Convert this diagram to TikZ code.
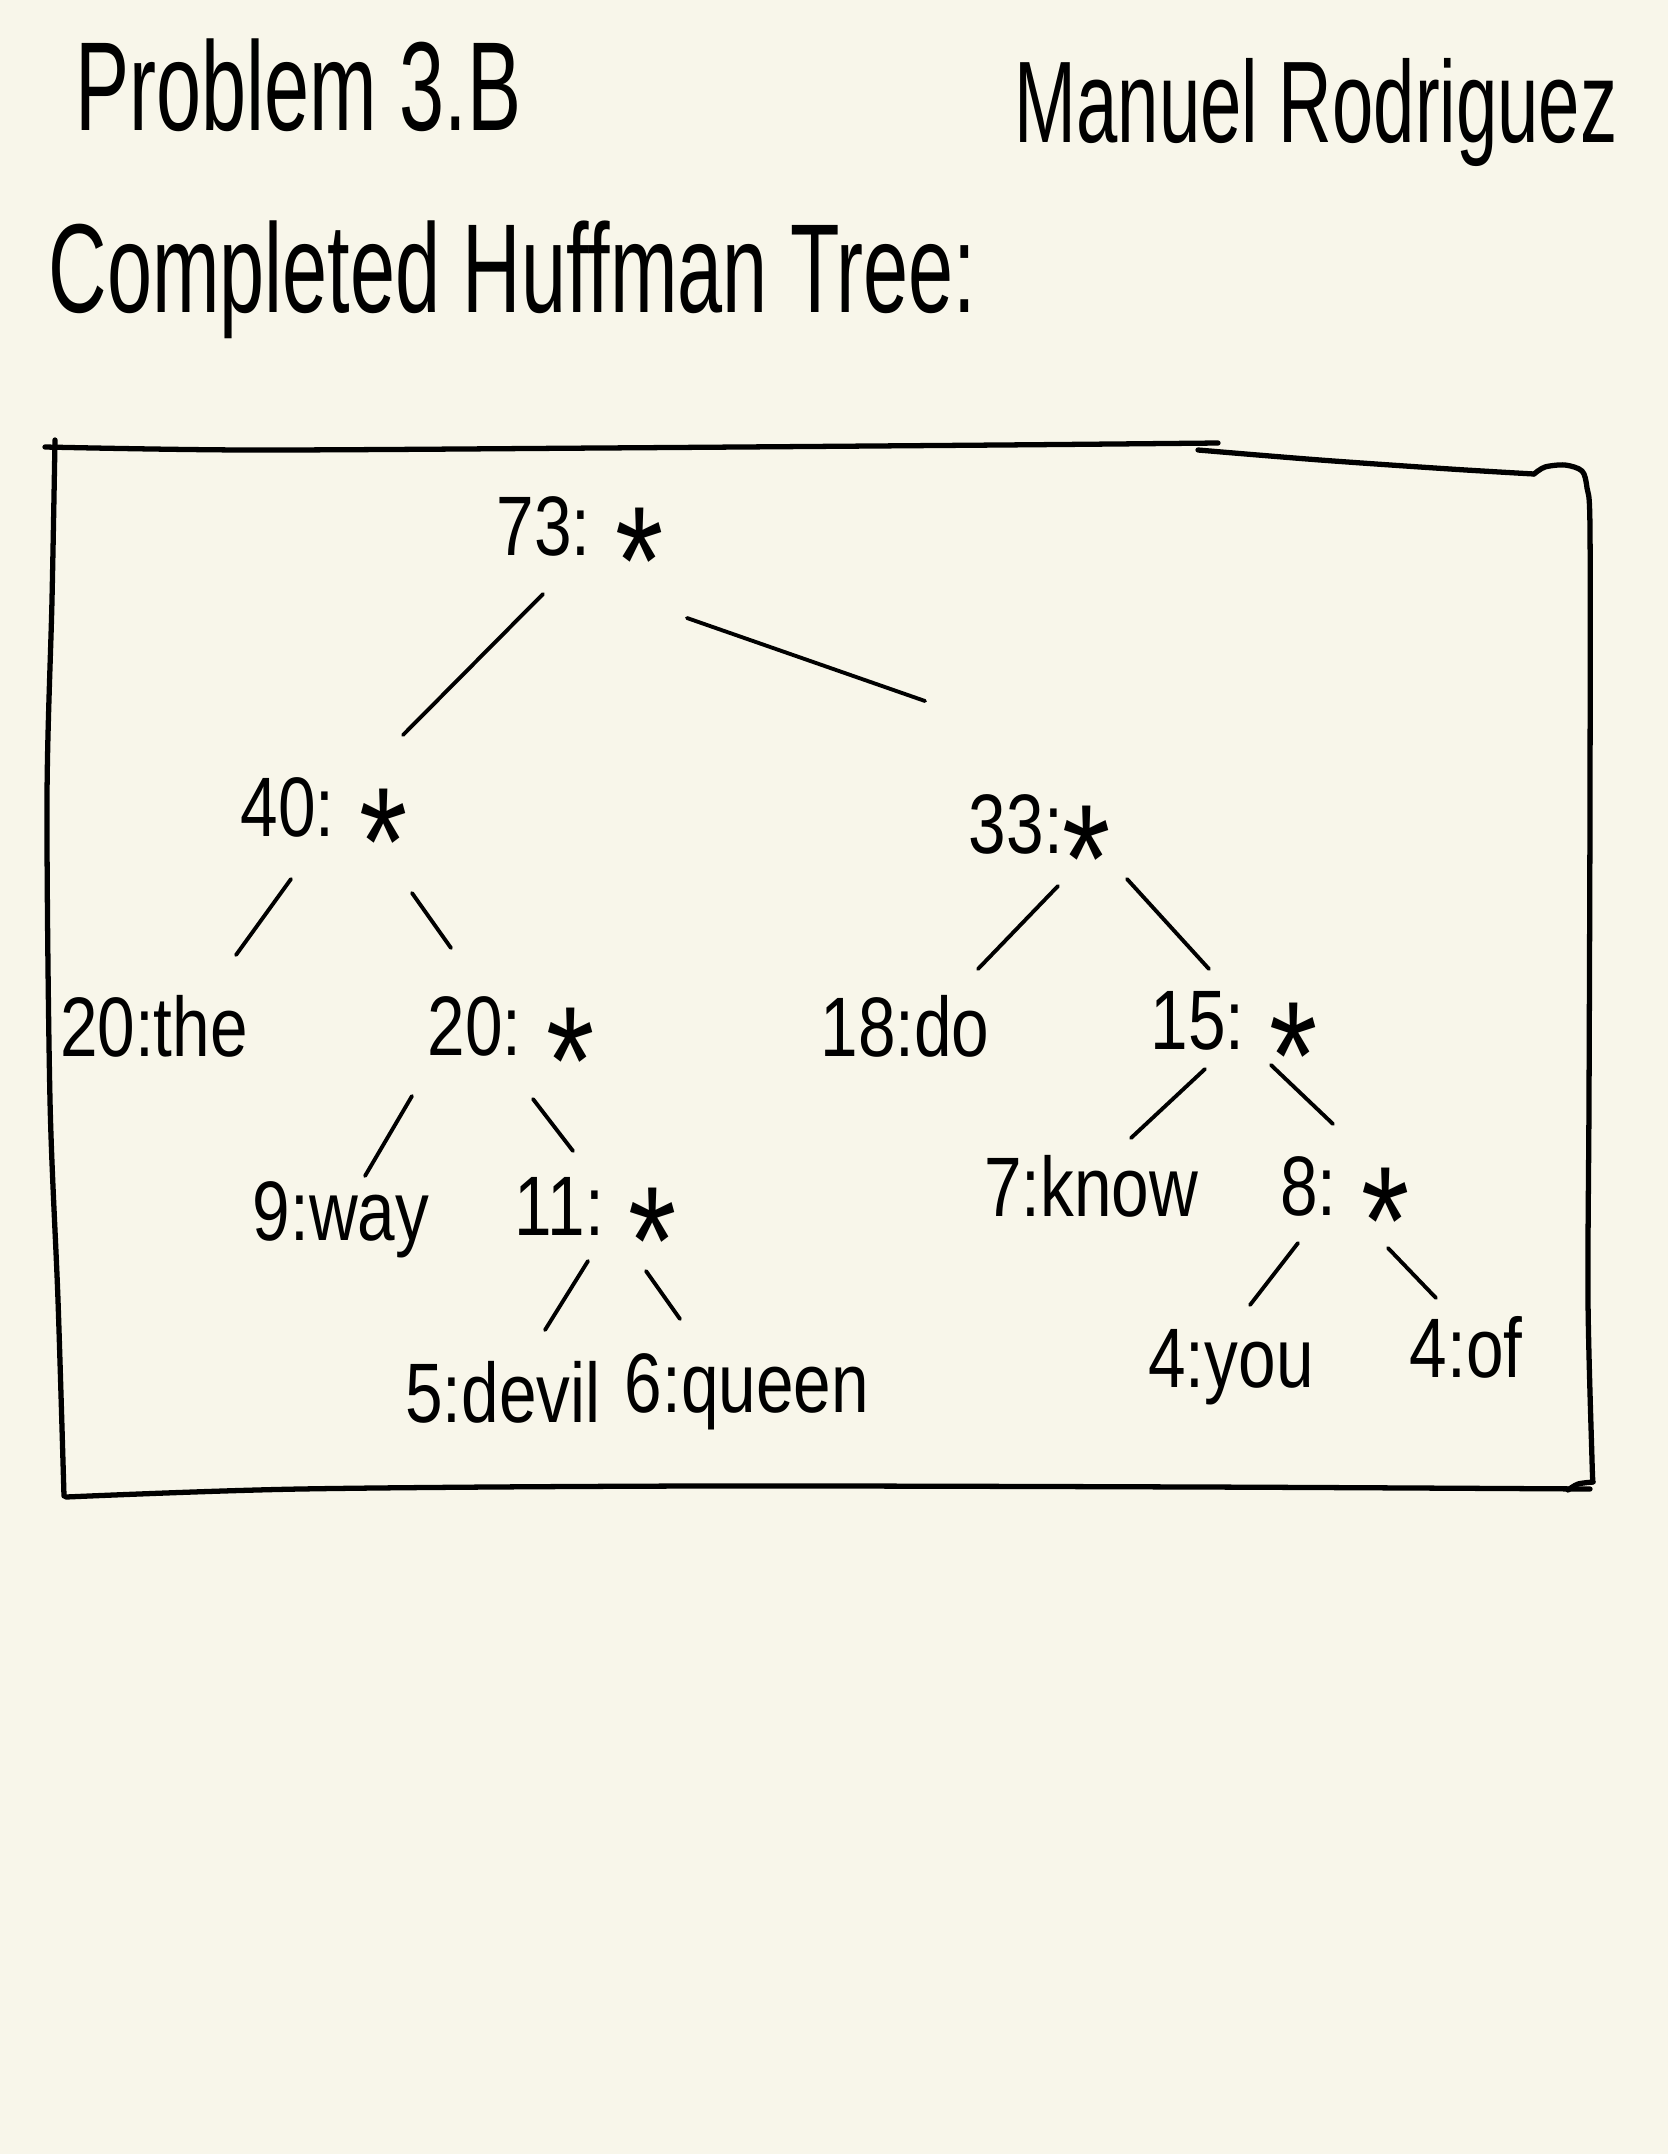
\documentclass[tikz,border=0pt]{standalone}
\usepackage{fontspec}
\newfontfamily\hand[FakeStretch=0.64]{Liberation Sans}
\newfontfamily\treefont[FakeStretch=0.8]{Liberation Sans}
\definecolor{paper}{HTML}{F8F6EA}
\newcommand\hstar{\smash{\raisebox{-17pt}{\fontsize{44}{44}\selectfont *}}}
\begin{document}
\begin{tikzpicture}[x=0.01cm,y=-0.01cm,
  titletext/.style={font=\hand\fontsize{36}{40}\selectfont, inner sep=0pt, anchor=base west},
  nametext/.style={font=\hand\fontsize{33}{38}\selectfont, inner sep=0pt, anchor=base west},
  lbl/.style={font=\treefont\fontsize{24}{28}\selectfont, inner sep=0pt, anchor=center},
  edge/.style={line width=1.1pt, line cap=round},
  boxline/.style={line width=1.5pt, line cap=round, line join=round}]
\fill[paper] (0,0) rectangle (1668,2154);
\useasboundingbox (0,0) rectangle (1668,2154);

% headings
\node[titletext] (prob) at (75,130) {Problem 3.B};
\node[nametext] (name) at (1014,142) {Manuel Rodriguez};
\node[titletext] (sub) at (48,312) {Completed Huffman Tree:};

% frame
\draw[boxline] plot[smooth] coordinates {(45,447) (250,450) (600,448) (1000,445) (1218,443)};
\draw[boxline] plot[smooth] coordinates {(1198,450) (1320,460) (1450,469) (1534,474)};
\draw[boxline] plot[smooth] coordinates {(1534,474) (1545,467) (1565,465) (1582,471) (1587,488) (1590,530) (1590,800) (1589,1100) (1588,1300) (1592,1460) (1593,1482)};
\draw[boxline] plot[smooth] coordinates {(1593,1482) (1578,1484) (1568,1490)};
\draw[boxline] plot[smooth] coordinates {(1590,1489) (1200,1487) (700,1486) (300,1489) (66,1497)};
\draw[boxline] plot[smooth] coordinates {(55,440) (52,600) (47,800) (50,1100) (58,1300) (64,1496)};

% tree nodes
\node[lbl] (n73)  at (580,526)  {73: \hstar};
\node[lbl] (n40)  at (324,807)  {40: \hstar};
\node[lbl] (n33)  at (1040,824) {33:\hstar};
\node[lbl] (n20a) at (154,1026) {20:the};
\node[lbl] (n20b) at (511,1026) {20: \hstar};
\node[lbl] (n18)  at (905,1026) {18:do};
\node[lbl] (n15)  at (1234,1021) {15: \hstar};
\node[lbl] (n9)   at (341,1220) {9:way};
\node[lbl] (n11)  at (596,1206) {11: \hstar};
\node[lbl] (n7)   at (1091,1186) {7:know};
\node[lbl] (n8)   at (1345,1186) {8: \hstar};
\node[lbl] (n5)   at (503,1392) {5:devil};
\node[lbl] (n6)   at (747,1392) {6:queen};
\node[lbl] (n4y)  at (1231,1367) {4:you};
\node[lbl] (n4o)  at (1466,1347) {4:of};

% connectors
\draw[edge] ([shift={(-37,68)}]n73.center) -- ([shift={(79,-72)}]n40.center);
\draw[edge] ([shift={(107,92)}]n73.center) -- ([shift={(-115,-123)}]n33.center);
\draw[edge] ([shift={(-33,72)}]n40.center) -- ([shift={(82,-71)}]n20a.center);
\draw[edge] ([shift={(88,86)}]n40.center) -- ([shift={(-60,-78)}]n20b.center);
\draw[edge] ([shift={(18,62)}]n33.center) -- ([shift={(73,-57)}]n18.center);
\draw[edge] ([shift={(87,55)}]n33.center) -- ([shift={(-25,-52)}]n15.center);
\draw[edge] ([shift={(-99,70)}]n20b.center) -- ([shift={(24,-44)}]n9.center);
\draw[edge] ([shift={(22,73)}]n20b.center) -- ([shift={(-23,-55)}]n11.center);
\draw[edge] ([shift={(-29,48)}]n15.center) -- ([shift={(40,-48)}]n7.center);
\draw[edge] ([shift={(37,44)}]n15.center) -- ([shift={(-12,-62)}]n8.center);
\draw[edge] ([shift={(-8,55)}]n11.center) -- ([shift={(42,-62)}]n5.center);
\draw[edge] ([shift={(50,65)}]n11.center) -- ([shift={(-67,-73)}]n6.center);
\draw[edge] ([shift={(-47,57)}]n8.center) -- ([shift={(19,-62)}]n4y.center);
\draw[edge] ([shift={(43,62)}]n8.center) -- ([shift={(-30,-49)}]n4o.center);
\end{tikzpicture}
\end{document}
